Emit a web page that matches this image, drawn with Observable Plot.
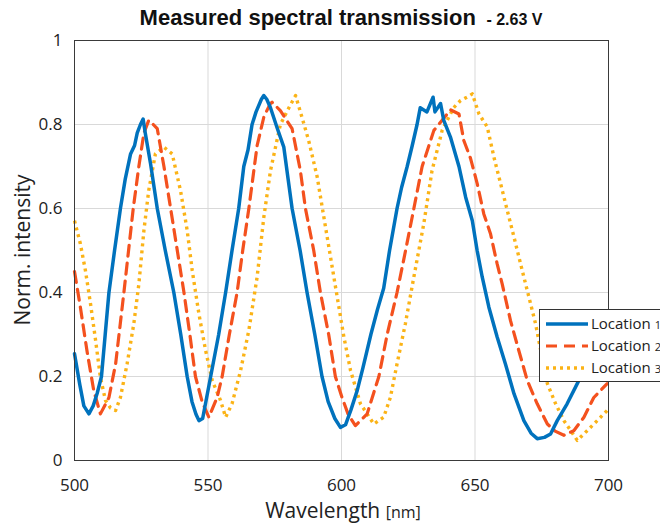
<!DOCTYPE html>
<html><head><meta charset="utf-8">
<script src="https://cdn.jsdelivr.net/npm/d3@7"></script>
<script src="https://cdn.jsdelivr.net/npm/@observablehq/plot@0.6"></script>
<style>body{margin:0;background:#fff;overflow:hidden} svg{display:block}</style>
</head><body><div id="chart"></div>
<script>
const seriesNames = ["Location 1","Location 2","Location 3"];
const seriesColors = ["#0072BD","#F4511E","#FBB316"];
const xTicks = [500,550,600,650,700];
const yTicks = [0,0.2,0.4,0.6,0.8,1];

const wl1 = [500,502,503.5,505.4,507,508.5,510.1,511.5,512.9,515,517.2,519,521,522.5,523.5,524.7,525.7,526.5,528.5,531,534,537.2,539.8,542.2,544,545.5,546.6,548,549.5,551,554,556.6,559,561.5,563.4,565,566.5,568,570,570.9,572,573.4,576,578.4,580,581.5,584.5,587.1,590,592.7,595,597.5,599.6,601.5,603.5,605.9,608,611,613.5,615.8,618,620.8,622.5,624.6,626.5,628.3,629.5,632,634.3,635,637.1,638.3,640.8,644,646.5,649,650.8,652.7,655.2,658.3,661.4,664.6,668.3,671,673.3,676,678.3,680.8,684.5,688.3,692,696,700];
const int1 = [0.254,0.18,0.13,0.111,0.13,0.16,0.2,0.3,0.4,0.5,0.6,0.67,0.73,0.75,0.78,0.8,0.813,0.78,0.706,0.6,0.5,0.4,0.3,0.2,0.14,0.11,0.095,0.1,0.15,0.2,0.3,0.4,0.5,0.6,0.7,0.74,0.8,0.83,0.86,0.869,0.86,0.84,0.79,0.746,0.67,0.6,0.5,0.4,0.3,0.2,0.14,0.1,0.079,0.085,0.12,0.167,0.22,0.3,0.36,0.41,0.5,0.6,0.65,0.7,0.75,0.8,0.84,0.83,0.865,0.83,0.85,0.81,0.77,0.7,0.627,0.571,0.5,0.437,0.365,0.294,0.23,0.159,0.095,0.065,0.052,0.055,0.063,0.095,0.135,0.183,0.23,0.28,0.32];

const wl2 = [500,502.2,504.7,507.2,509.7,512.9,515.4,518.5,522,524.1,526,527.8,529.5,531,533.5,536,538.5,541,543.2,545.3,547.8,550.3,553.4,555.3,558,560.9,563,565.3,568.4,571,573.4,574,577.1,581.5,584.6,586.5,589.6,592.1,595.2,597.7,600.2,602.5,605.2,609.6,614,617.1,620.8,624,627.1,630.2,634.6,637.7,640.8,644,645.8,648.3,650.8,653.3,655.8,658.3,660.2,663.3,666.4,669.6,673.3,677.1,680,683.3,687,690.8,694.5,699.5];
const int2 = [0.45,0.365,0.26,0.167,0.111,0.15,0.23,0.4,0.6,0.7,0.78,0.81,0.8,0.79,0.7,0.6,0.5,0.4,0.3,0.2,0.14,0.103,0.15,0.2,0.3,0.4,0.5,0.6,0.75,0.82,0.85,0.853,0.833,0.79,0.69,0.6,0.5,0.4,0.3,0.2,0.15,0.11,0.083,0.111,0.2,0.3,0.4,0.5,0.6,0.7,0.786,0.81,0.835,0.825,0.762,0.72,0.66,0.587,0.54,0.468,0.42,0.333,0.262,0.19,0.135,0.087,0.07,0.06,0.071,0.103,0.15,0.183];

const wl3 = [500,502.2,504.1,506,507.9,509.7,511.6,513.5,515.4,517.2,519.7,522.2,524.1,526,527.8,530.3,533.5,536.6,539.7,542.2,544.1,546.6,549.1,551.6,554.7,556.6,559,562.2,565.3,568.4,570.9,573.4,577.1,580.3,582.8,585.2,587.7,590.9,593.4,595.9,598.4,600.9,603.4,607.1,612.1,615.8,618.3,620.8,623.9,627.1,630.8,633.9,637.7,642,644.6,647,649,651.5,654.6,657.1,659.6,662.1,664.6,667.7,670.2,672.7,675,677.1,680.2,683.3,688.3,692,695.8,699.5];
const int3 = [0.571,0.516,0.452,0.373,0.286,0.198,0.143,0.125,0.119,0.15,0.23,0.325,0.42,0.548,0.643,0.73,0.746,0.73,0.643,0.548,0.452,0.349,0.262,0.19,0.143,0.103,0.135,0.214,0.31,0.437,0.579,0.69,0.8,0.84,0.869,0.817,0.762,0.675,0.579,0.484,0.389,0.294,0.214,0.135,0.087,0.103,0.15,0.23,0.325,0.437,0.563,0.69,0.786,0.84,0.857,0.865,0.873,0.825,0.794,0.722,0.659,0.595,0.532,0.452,0.389,0.325,0.25,0.183,0.135,0.095,0.048,0.071,0.095,0.119];

const toRows = (xs, ys) => xs.map((x, i) => ({x, y: ys[i]}));
const s1 = toRows(wl1, int1), s2 = toRows(wl2, int2), s3 = toRows(wl3, int3);

const font = "'Open Sans', 'Liberation Sans', sans-serif";
const W = 660, H = 527, mL = 74, mR = 52, mT = 40, mB = 67;
const dashes = ["none", "11 7", "3 4"];
const widths = [3.5, 3.2, 3.4];

const plot = Plot.plot({
  width: W, height: H,
  marginLeft: mL, marginRight: mR, marginTop: mT, marginBottom: mB,
  style: {fontFamily: font, background: "#fff"},
  x: {domain: [500, 700]},
  y: {domain: [0, 1]},
  marks: [
    Plot.gridX([550, 600, 650], {stroke: "#d9d9d9", strokeOpacity: 1, strokeWidth: 1}),
    Plot.gridY([0.2, 0.4, 0.6, 0.8], {stroke: "#d9d9d9", strokeOpacity: 1, strokeWidth: 1}),
    Plot.line(s3, {x: "x", y: "y", stroke: seriesColors[2], strokeWidth: widths[2], strokeDasharray: dashes[2], className: "ln3"}),
    Plot.line(s2, {x: "x", y: "y", stroke: seriesColors[1], strokeWidth: widths[1], strokeDasharray: dashes[1], className: "ln2"}),
    Plot.line(s1, {x: "x", y: "y", stroke: seriesColors[0], strokeWidth: widths[0]}),
    Plot.frame({stroke: "#3a3a3a", strokeWidth: 1}),
    Plot.axisX(xTicks, {tickSize: 0, tickPadding: 18, fontSize: 17, label: null, fill: "#222"}),
    Plot.axisY(yTicks, {tickSize: 0, tickPadding: 12, fontSize: 17, label: null, fill: "#222",
      tickFormat: d => d === 0 ? "0" : d === 1 ? "1" : String(d)})
  ]
});
document.getElementById("chart").appendChild(plot);

const svg = d3.select(plot);
svg.selectAll(".ln2 path").style("stroke-dasharray", dashes[1]);
svg.selectAll(".ln3 path").style("stroke-dasharray", dashes[2]).style("stroke-linecap", "butt");

// Title
const t = svg.append("text").attr("x", 341).attr("y", 25).attr("text-anchor", "middle")
  .attr("font-family", "'Liberation Sans', Arial, sans-serif").attr("font-weight", "bold").attr("fill", "#111");
t.append("tspan").attr("font-size", 22).text("Measured spectral transmission ");
t.append("tspan").attr("font-size", 16).text(" - 2.63 V");
// X label
const xl = svg.append("text").attr("x", 343).attr("y", 518).attr("text-anchor", "middle")
  .attr("font-family", font).attr("fill", "#222");
xl.append("tspan").attr("font-size", 21).text("Wavelength ");
xl.append("tspan").attr("font-size", 16).text("[nm]");
// Y label
svg.append("text").attr("transform", "translate(30,250) rotate(-90)").attr("text-anchor", "middle")
  .attr("font-family", font).attr("font-size", 21).attr("fill", "#222").text("Norm. intensity");
// Legend
const lg = svg.append("g");
lg.append("rect").attr("x", 539.5).attr("y", 309.5).attr("width", 140).attr("height", 72)
  .attr("fill", "#fff").attr("stroke", "#333").attr("stroke-width", 1);
seriesNames.forEach((name, i) => {
  const y = 324 + i * 22;
  lg.append("line").attr("x1", 546).attr("x2", 588).attr("y1", y).attr("y2", y)
    .attr("stroke", seriesColors[i]).attr("stroke-width", widths[i])
    .style("stroke-dasharray", dashes[i]);
  const tx = lg.append("text").attr("x", 591).attr("y", y + 5).attr("text-anchor", "start")
    .attr("font-family", font).attr("fill", "#222");
  const parts = name.split(" ");
  tx.append("tspan").attr("font-size", 15).text(parts[0] + " ");
  tx.append("tspan").attr("font-size", 11).text(parts[1]);
});
</script></body></html>
